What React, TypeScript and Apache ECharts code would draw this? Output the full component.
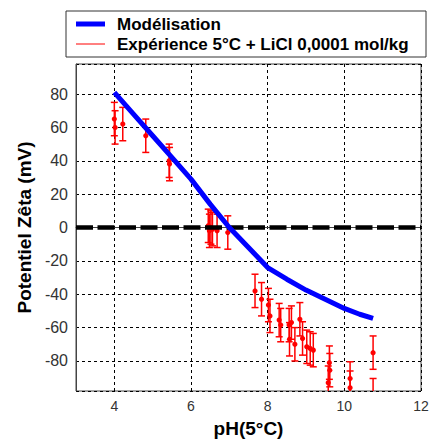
import React, { useEffect, useRef } from "react";
import * as echarts from "echarts";

const modelPH = [4.0, 4.5, 5.0, 5.5, 6.0, 6.5, 7.0, 7.5, 8.0, 8.5, 9.0, 9.5, 10.0, 10.4, 10.75];
const modelZeta = [81, 68, 55, 42, 29, 14, 0, -12, -24, -31, -37.5, -43, -48.5, -52, -54.5];

const expPH = [
  4.0, 4.02, 4.22, 4.82, 5.43, 5.44, 6.45, 6.48, 6.52, 6.56, 6.68, 6.96,
  7.67, 7.84, 8.02, 8.06, 8.3, 8.34, 8.56, 8.62, 8.57, 8.71, 8.84, 8.91,
  9.02, 9.11, 9.19, 9.61, 9.62, 9.58, 10.15, 10.15, 10.75, 10.75,
];
const expZeta = [
  65, 60, 62, 55, 40, 38, 1, -2, 0, -1, -2, -3,
  -38, -43, -46.5, -53, -55.5, -58.5, -58.5, -57, -67, -70, -55, -66.5,
  -71.5, -72.5, -73.5, -81, -85.5, -93, -90.5, -96, -75, -100.5,
];
const expErr = [
  10, 10, 10, 10, 10, 10, 10, 10, 10, 10, 10, 10,
  10, 10, 10, 10, 10, 10, 10, 10, 10, 10, 10, 10,
  10, 10, 10, 10, 10, 10, 10, 10, 10, 10,
];

const xTicks = [4, 6, 8, 10, 12];
const yTicks = [-80, -60, -40, -20, 0, 20, 40, 60, 80];

const modelName = "Modélisation";
const expName = "Expérience 5°C + LiCl 0,0001 mol/kg";
const xTitle = "pH(5°C)";
const yTitle = "Potentiel Zêta (mV)";

const FONT = "'Liberation Sans', Arial, sans-serif";

export default function App() {
  const ref = useRef<HTMLDivElement>(null);
  useEffect(() => {
    if (!ref.current) return;
    const chart = echarts.init(ref.current, null, { renderer: "svg" });
    const gridLine = { show: true, lineStyle: { color: "#000", width: 1, type: [3, 3] as any } };
    chart.setOption({
      animation: false,
      backgroundColor: "#fff",
      textStyle: { fontFamily: FONT },
      grid: {
        left: 76,
        top: 64,
        width: 345,
        height: 327,
        show: true,
        borderColor: "#444",
        borderWidth: 1,
        backgroundColor: "#fff",
      },
      xAxis: {
        type: "value",
        min: 3,
        max: 12,
        splitNumber: 5,
        axisLine: { show: true, lineStyle: { color: "#444", width: 1 } },
        axisTick: { show: false },
        axisLabel: {
          color: "#333",
          fontSize: 14,
          margin: 8,
          fontFamily: FONT,
          showMinLabel: false,
          formatter: (v: number) => (xTicks.includes(v) ? String(v) : ""),
        },
        splitLine: gridLine,
        name: xTitle,
        nameLocation: "middle",
        nameGap: 28,
        nameTextStyle: { fontWeight: "bold", fontSize: 19, color: "#000", fontFamily: FONT },
      },
      yAxis: {
        type: "value",
        min: -98,
        max: 98,
        splitNumber: 10,
        axisLine: { show: true, lineStyle: { color: "#444", width: 1 } },
        axisTick: { show: false },
        axisLabel: {
          color: "#333",
          fontSize: 16,
          margin: 8,
          fontFamily: FONT,
          showMinLabel: false,
          showMaxLabel: false,
          formatter: (v: number) => (yTicks.includes(v) ? String(v) : ""),
        },
        splitLine: gridLine,
        name: yTitle,
        nameLocation: "middle",
        nameGap: 40,
        nameRotate: 90,
        nameTextStyle: { fontWeight: "bold", fontSize: 19, color: "#000", fontFamily: FONT },
      },
      series: [
        {
          name: expName,
          type: "custom",
          clip: true,
          z: 2,
          data: expPH.map((x, i) => [x, expZeta[i], expErr[i]]),
          renderItem: (params: any, api: any) => {
            const x = api.value(0);
            const y = api.value(1);
            const e = api.value(2);
            const top = api.coord([x, y + e]);
            const bot = api.coord([x, y - e]);
            const c = api.coord([x, y]);
            const hw = 3.5;
            const st = { stroke: "#ff0000", lineWidth: 1.5 };
            return {
              type: "group",
              children: [
                { type: "line", shape: { x1: top[0], y1: top[1], x2: bot[0], y2: bot[1] }, style: st },
                { type: "line", shape: { x1: top[0] - hw, y1: top[1], x2: top[0] + hw, y2: top[1] }, style: st },
                { type: "line", shape: { x1: bot[0] - hw, y1: bot[1], x2: bot[0] + hw, y2: bot[1] }, style: st },
                { type: "circle", shape: { cx: c[0], cy: c[1], r: 2.6 }, style: { fill: "#ff0000" } },
              ],
            };
          },
        },
        {
          name: "zero",
          type: "line",
          z: 3,
          silent: true,
          showSymbol: false,
          data: [
            [3, 0],
            [12, 0],
          ],
          lineStyle: { color: "#000", width: 4.5, type: [17, 4.5] },
        },
        {
          name: modelName,
          type: "line",
          z: 4,
          showSymbol: false,
          data: modelPH.map((x, i) => [x, modelZeta[i]]),
          lineStyle: { color: "#0000ff", width: 5 },
        },
      ],
      graphic: [
        {
          type: "rect",
          shape: { x: 66, y: 11, width: 360, height: 46 },
          style: { fill: "#fff", stroke: "#333", lineWidth: 1 },
        },
        {
          type: "line",
          shape: { x1: 76, y1: 24, x2: 105, y2: 24 },
          style: { stroke: "#0000ff", lineWidth: 5 },
        },
        {
          type: "text",
          x: 117,
          y: 24,
          style: {
            text: modelName,
            font: `bold 17px ${FONT}`,
            fill: "#000",
            verticalAlign: "middle",
          },
        },
        {
          type: "line",
          shape: { x1: 76, y1: 44, x2: 105, y2: 44 },
          style: { stroke: "#ff0000", lineWidth: 1 },
        },
        {
          type: "text",
          x: 117,
          y: 44,
          style: {
            text: expName,
            font: `bold 17px ${FONT}`,
            fill: "#000",
            verticalAlign: "middle",
          },
        },
      ],
    });
    return () => chart.dispose();
  }, []);
  return (
    <div
      ref={ref}
      style={{ position: "fixed", left: 0, top: 0, width: 433, height: 443, background: "#fff" }}
    />
  );
}
